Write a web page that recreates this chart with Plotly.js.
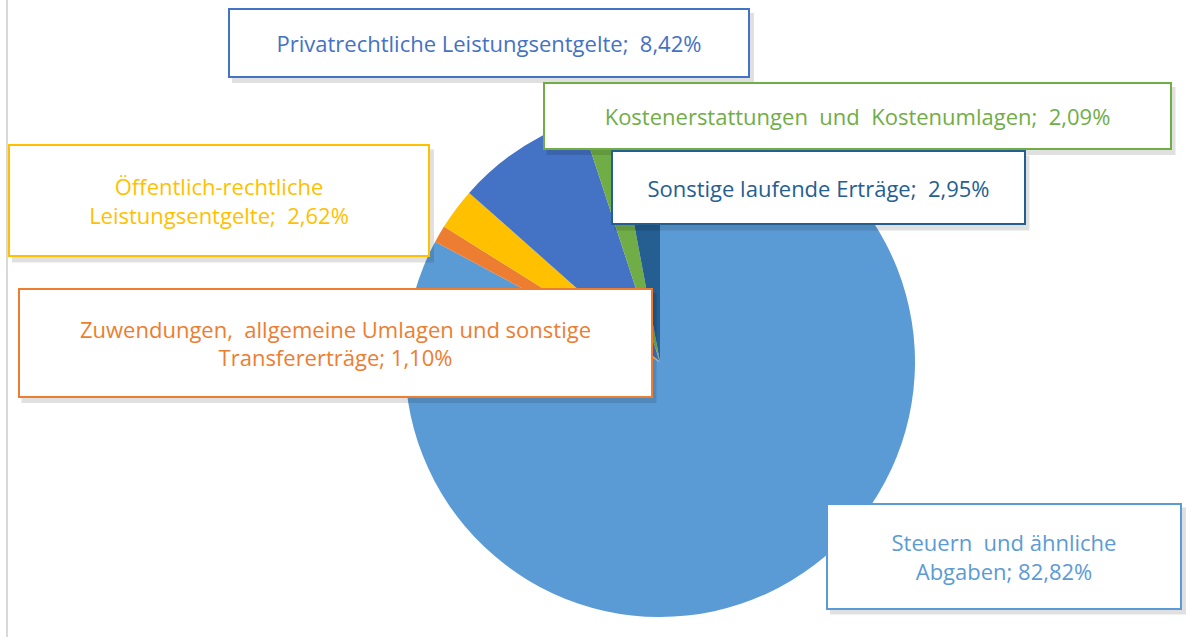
<!DOCTYPE html>
<html>
<head>
<meta charset="utf-8">
<script src="https://cdn.plot.ly/plotly-3.0.1.min.js"></script>
<style>html,body{margin:0;padding:0;background:#fff;}#chart{width:1186px;height:637px;}</style>
</head>
<body>
<div id="chart"></div>
<script>
// Data (clockwise from 12 o'clock)
const categories = [
  "Steuern und ähnliche Abgaben",
  "Zuwendungen, allgemeine Umlagen und sonstige Transfererträge",
  "Öffentlich-rechtliche Leistungsentgelte",
  "Privatrechtliche Leistungsentgelte",
  "Kostenerstattungen und Kostenumlagen",
  "Sonstige laufende Erträge"
];
const shares = [82.82, 1.10, 2.62, 8.42, 2.09, 2.95];
const labelTexts = [
  "Steuern  und ähnliche<br>Abgaben; 82,82%",
  "Zuwendungen,  allgemeine Umlagen und sonstige<br>Transfererträge; 1,10%",
  "Öffentlich-rechtliche<br>Leistungsentgelte;  2,62%",
  "Privatrechtliche Leistungsentgelte;  8,42%",
  "Kostenerstattungen  und  Kostenumlagen;  2,09%",
  "Sonstige laufende Erträge;  2,95%"
];
const colors = ["#5B9BD5", "#ED7D31", "#FFC000", "#4472C4", "#70AD47", "#255E91"];

// Label box layout (pixel centre, box size) per category
const boxes = [
  {cx: 1004, cy: 556, w: 356, h: 107},
  {cx: 335, cy: 343, w: 635, h: 110},
  {cx: 219, cy: 201, w: 422, h: 113},
  {cx: 489, cy: 43, w: 522, h: 70},
  {cx: 857, cy: 116, w: 629, h: 68},
  {cx: 818, cy: 188, w: 415, h: 75}
];
const drawOrder = [3, 4, 5, 2, 1, 0];

const W = 1186, H = 637;
const px = x => x / W;
const py = y => 1 - y / H;
const pieCx = 660, pieCy = 362, pieR = 255;

const trace = {
  type: "pie",
  labels: categories,
  values: shares,
  sort: false,
  direction: "clockwise",
  rotation: 0,
  marker: {colors: colors, line: {color: "rgba(255,255,255,0)", width: 0}},
  textinfo: "none",
  hoverinfo: "label+percent",
  showlegend: false,
  domain: {x: [px(pieCx - pieR), px(pieCx + pieR)], y: [py(pieCy + pieR), py(pieCy - pieR)]}
};

const annotations = [];
const shapes = [
  {type: "line", xref: "paper", yref: "paper", x0: px(7), x1: px(7), y0: 0, y1: 1,
   line: {color: "#D9D9D9", width: 2}, layer: "below"}
];
drawOrder.forEach(i => {
  const b = boxes[i];
  shapes.push({
    type: "rect", xref: "paper", yref: "paper", layer: "above",
    x0: px(b.cx - b.w / 2 + 4), x1: px(b.cx + b.w / 2 + 4),
    y0: py(b.cy + b.h / 2 + 5), y1: py(b.cy - b.h / 2 + 5),
    fillcolor: "rgba(0,0,0,0.12)", line: {width: 0}
  });
  annotations.push({
    xref: "paper", yref: "paper", x: px(b.cx), y: py(b.cy),
    xanchor: "center", yanchor: "middle", showarrow: false,
    text: labelTexts[i], align: "center",
    width: b.w - 6, height: b.h - 6, borderpad: 1,
    bgcolor: "#FFFFFF", bordercolor: colors[i], borderwidth: 2,
    font: {family: "Open Sans, sans-serif", size: 22, color: colors[i]}
  });
});

const layout = {
  width: W, height: H,
  margin: {l: 0, r: 0, t: 0, b: 0},
  paper_bgcolor: "#FFFFFF",
  plot_bgcolor: "#FFFFFF",
  showlegend: false,
  annotations: annotations,
  shapes: shapes
};
Plotly.newPlot("chart", [trace], layout, {displayModeBar: false, staticPlot: true});
</script>
</body>
</html>
